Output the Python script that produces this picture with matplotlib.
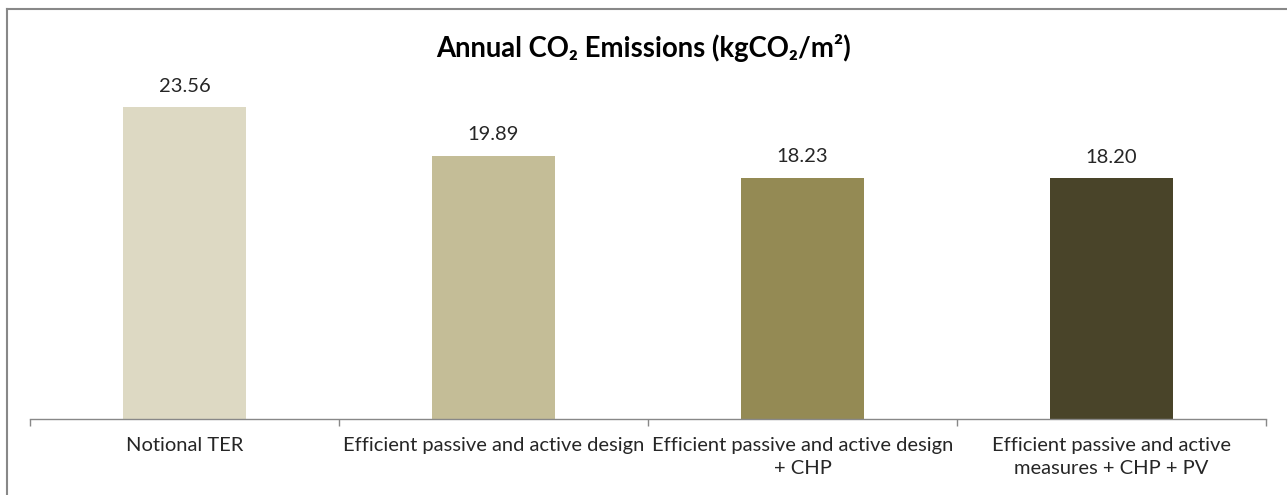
import matplotlib.pyplot as plt
from matplotlib.lines import Line2D

categories = [
	"Notional TER",
	"Efficient passive and active design",
	"Efficient passive and active design\n+ CHP",
	"Efficient passive and active\nmeasures + CHP + PV",
]
emissions = [23.56, 19.89, 18.23, 18.20]
colours = ["#DDD9C3", "#C4BD97", "#948A54", "#494429"]

plt.rcParams['font.family'] = ['Lato', 'DejaVu Sans']

W, H = 1287, 495
fig = plt.figure(figsize=(W / 100, H / 100), dpi=100)

# plot area in pixel terms: x axis at y=419, 25 units up reaches y=88
ax = fig.add_axes([30 / W, (H - 419) / H, (1266 - 30) / W, (419 - 88) / H])

x = range(len(categories))
bars = ax.bar(x, emissions, width=0.40, color=colours)

for b, v in zip(bars, emissions):
	ax.annotate(f"{v:.2f}", (b.get_x() + b.get_width() / 2, v),
		xytext=(0, 9), textcoords='offset points',
		ha='center', va='bottom', fontsize=14.5, color='#262626')

ax.set_xlim(-0.5, len(categories) - 0.5)
ax.set_ylim(0, 25)

for side in ('top', 'right', 'left'):
	ax.spines[side].set_visible(False)
ax.spines['bottom'].set_color('#888888')
ax.spines['bottom'].set_linewidth(1.0)

ax.set_yticks([])
ax.set_xticks(list(x))
ax.set_xticklabels(categories, fontsize=14.5, color='#262626', linespacing=1.4)
ax.tick_params(axis='x', which='major', length=0, pad=13)
ax.set_xticks([i - 0.5 for i in range(len(categories) + 1)], minor=True)
ax.tick_params(axis='x', which='minor', length=5, width=1.0, color='#888888', direction='out')

fig.text(0.5, 1 - 48 / H, "Annual CO₂ Emissions (kgCO₂/m²)",
	ha='center', va='center', fontsize=19.8, fontweight='bold', color='black')

# chart frame (top and left edges)
fig.add_artist(Line2D([7 / W, 7 / W], [0, 1 - 9 / H], color='#888888', lw=1.5))
fig.add_artist(Line2D([7 / W, 1], [1 - 9 / H, 1 - 9 / H], color='#888888', lw=1.5))

fig.savefig('out.png', dpi=100)
